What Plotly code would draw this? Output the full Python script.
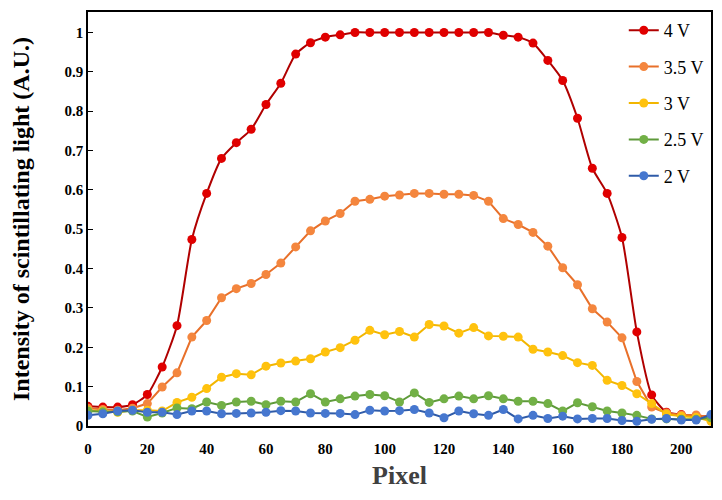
import plotly.graph_objects as go

pixel = list(range(0, 211, 5))

v4 = [0.050, 0.048, 0.048, 0.054, 0.080, 0.150, 0.255, 0.474, 0.591, 0.680, 0.720, 0.754, 0.817, 0.871, 0.945,
      0.974, 0.988, 0.994, 1.0, 1.0, 1.0, 1.0, 1.0, 1.0, 1.0, 1.0, 1.0, 1.0, 0.993, 0.988, 0.973, 0.929,
      0.878, 0.782, 0.655, 0.591, 0.479, 0.239, 0.079, 0.035, 0.029, 0.025, 0.025]
v35 = [0.045, 0.042, 0.040, 0.045, 0.057, 0.099, 0.135, 0.226, 0.268, 0.326, 0.349, 0.362, 0.385, 0.414, 0.455,
       0.496, 0.521, 0.540, 0.571, 0.576, 0.584, 0.587, 0.591, 0.591, 0.589, 0.589, 0.586, 0.571, 0.527, 0.512,
       0.492, 0.457, 0.402, 0.359, 0.298, 0.264, 0.224, 0.113, 0.048, 0.033, 0.028, 0.028, 0.022]
v3 = [0.040, 0.038, 0.035, 0.040, 0.040, 0.038, 0.060, 0.073, 0.095, 0.124, 0.133, 0.130, 0.152, 0.160, 0.165,
      0.171, 0.188, 0.199, 0.218, 0.243, 0.232, 0.240, 0.226, 0.258, 0.254, 0.236, 0.250, 0.229, 0.228, 0.226,
      0.195, 0.188, 0.179, 0.161, 0.154, 0.116, 0.103, 0.082, 0.057, 0.030, 0.025, 0.022, 0.012]
v25 = [0.038, 0.036, 0.036, 0.038, 0.023, 0.033, 0.046, 0.044, 0.061, 0.052, 0.061, 0.063, 0.054, 0.063, 0.061,
       0.082, 0.061, 0.069, 0.076, 0.080, 0.077, 0.061, 0.084, 0.060, 0.069, 0.076, 0.069, 0.077, 0.069, 0.063,
       0.063, 0.057, 0.038, 0.059, 0.049, 0.038, 0.033, 0.027, 0.018, 0.018, 0.017, 0.017, 0.021]
v2 = [0.027, 0.031, 0.038, 0.040, 0.035, 0.035, 0.029, 0.038, 0.038, 0.031, 0.032, 0.033, 0.035, 0.039, 0.038,
      0.033, 0.032, 0.032, 0.029, 0.040, 0.038, 0.039, 0.042, 0.033, 0.021, 0.038, 0.031, 0.027, 0.042, 0.018,
      0.027, 0.019, 0.025, 0.018, 0.019, 0.019, 0.014, 0.012, 0.017, 0.019, 0.015, 0.015, 0.029]

series = [
    ("4 V", v4, "#B00000", "#E00000", "spline"),
    ("3.5 V", v35, "#E8702A", "#F4863E", "linear"),
    ("3 V", v3, "#F2B600", "#FFC20E", "linear"),
    ("2.5 V", v25, "#5E9A3A", "#72B046", "linear"),
    ("2 V", v2, "#2F5BA8", "#4677CF", "linear"),
]

fig = go.Figure()
for name, vals, lc, mc, shape in series:
    line = dict(color=lc, width=2, shape=shape)
    if shape == "spline":
        line["smoothing"] = 0.6
    fig.add_trace(go.Scatter(
        x=pixel, y=vals, name=name, mode="lines+markers", legendgroup=name,
        line=line,
        marker=dict(color=mc, size=9, line=dict(width=0)),
    ))

fig.update_layout(
    width=722, height=500,
    margin=dict(l=88, r=11, t=12, b=74, autoexpand=False),
    paper_bgcolor="white", plot_bgcolor="white",
    font=dict(family="Liberation Serif", color="black"),
    legend=dict(
        x=0.86, y=1.0, xanchor="left", yanchor="top",
        font=dict(family="Liberation Serif", size=18, color="black"),
        bgcolor="rgba(0,0,0,0)", tracegroupgap=10,
        itemwidth=30,
    ),
    xaxis=dict(
        range=[0, 210], tickvals=list(range(0, 201, 20)),
        showline=True, linecolor="black", linewidth=1.5, mirror=True,
        showgrid=False, zeroline=False, ticks="", ticklabelstandoff=8,
        tickfont=dict(family="Liberation Serif", size=15, color="black", weight="bold"),
        title=dict(text="Pixel", font=dict(family="Liberation Serif", size=26, color="#404040", weight="bold"), standoff=10),
    ),
    yaxis=dict(
        range=[0, 1.052], tickvals=[0, 0.1, 0.2, 0.3, 0.4, 0.5, 0.6, 0.7, 0.8, 0.9, 1],
        ticktext=["0", "0.1", "0.2", "0.3", "0.4", "0.5", "0.6", "0.7", "0.8", "0.9", "1"],
        showline=True, linecolor="black", linewidth=1.5, mirror=True,
        showgrid=False, zeroline=False, ticks="inside", ticklen=5, tickcolor="black",
        tickfont=dict(family="Liberation Serif", size=15, color="black", weight="bold"),
        title=dict(text="Intensity of scintillating light (A.U.)", font=dict(family="Liberation Serif", size=24, color="black", weight="bold"), standoff=28),
    ),
)

fig.write_html("out.html")
